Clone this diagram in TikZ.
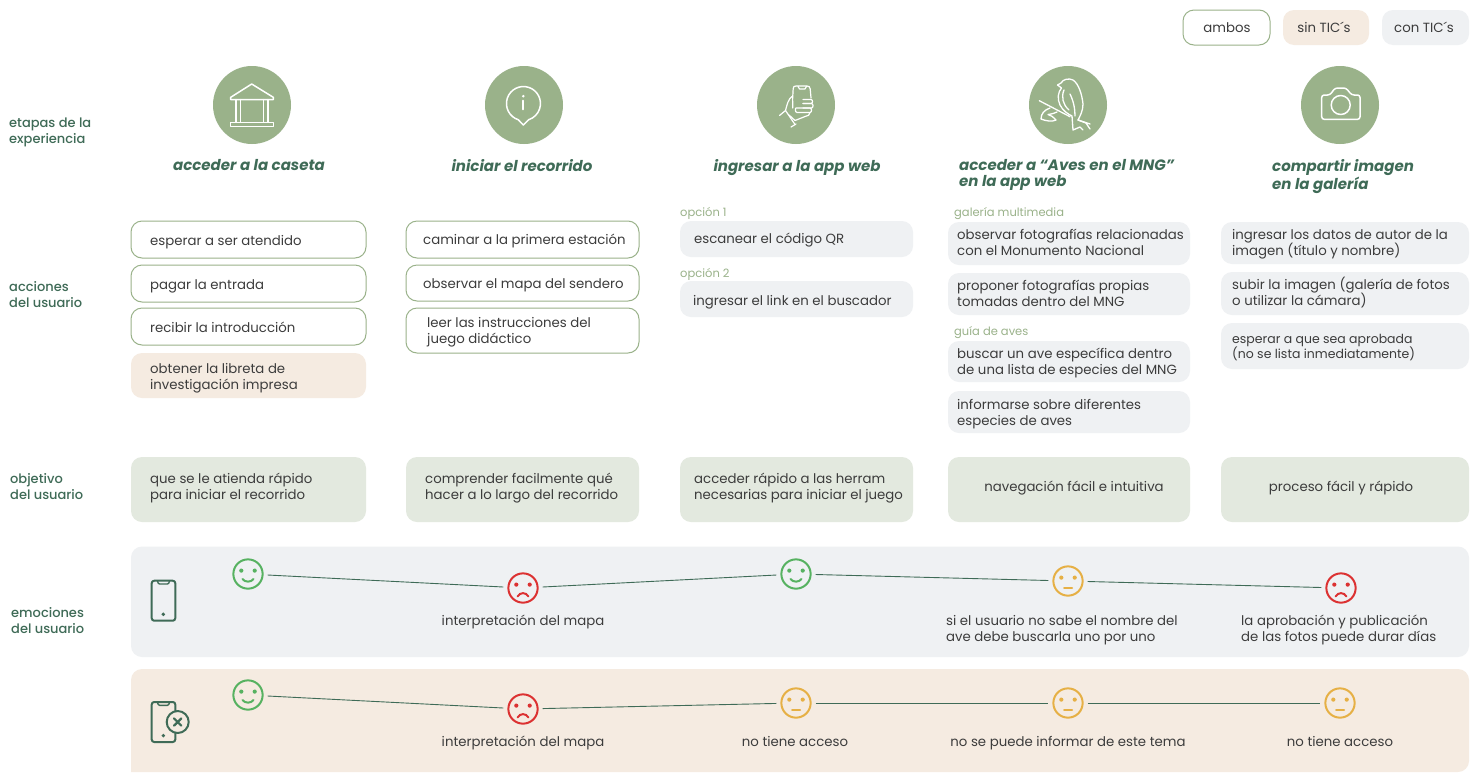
\documentclass[tikz,border=0pt]{standalone}
\usepackage{fontspec}
\setmainfont{Poppins}
\newfontfamily\medf{Poppins Medium}
\definecolor{sage}{HTML}{9AB28A}
\definecolor{forest}{HTML}{3F6B57}
\definecolor{beige}{HTML}{F5EBE1}
\definecolor{greyf}{HTML}{EFF1F3}
\definecolor{mint}{HTML}{E3E9DF}
\definecolor{ink}{HTML}{3C3C3C}
\definecolor{happy}{HTML}{57B261}
\definecolor{sad}{HTML}{DC3232}
\definecolor{meh}{HTML}{E6B045}
\tikzset{
  base/.style={rounded corners=11pt,inner sep=0pt,outer sep=0pt},
  both/.style={base,draw=sage,line width=1pt,fill=white},
  sin/.style={base,fill=beige},
  con/.style={base,fill=greyf},
  goal/.style={base,fill=mint},
  txt/.style={text=ink,inner sep=0pt,align=left,yshift=-2.5pt,font=\fontsize{13.3}{16}\selectfont},
  txtc/.style={txt,align=center},
  small/.style={txt,font=\fontsize{12.5}{15}\selectfont},
  head/.style={text=forest,inner sep=0pt,align=left,yshift=-2.5pt,font=\fontsize{13}{16}\selectfont\medf},
  opt/.style={text=sage,inner sep=0pt,align=left,yshift=-1pt,font=\fontsize{11.5}{14}\selectfont},
  ttl/.style={text=forest,inner sep=0pt,align=left,yshift=-2.5pt,font=\fontsize{15}{16}\selectfont\bfseries\itshape},
  disc/.style={circle,fill=sage,minimum size=78pt,inner sep=0pt,outer sep=0pt},
  ico/.style={draw=white,line width=1.5pt,line join=round,line cap=round},
  dev/.style={draw=forest,line width=2pt,line join=round,line cap=round},
  link/.style={draw=forest,line width=.9pt,shorten >=5pt,shorten <=5pt},
}
% name x1 y1 x2 y2 style (textx,texty) text
\newcommand\bx[8]{%
  \node[#6,minimum width={(#4-#2)*1pt},minimum height={(#5-#3)*1pt}] (#1) at ({(#2+#4)/2},{(#3+#5)/2}) {};
  \node[txt,anchor=west] (#1t) at (#7) {\strut #8\strut};}
\newcommand\bxc[6]{%
  \node[#6,minimum width={(#4-#2)*1pt},minimum height={(#5-#3)*1pt}] (#1) at ({(#2+#4)/2},{(#3+#5)/2}) {};}
\newcommand\facebase[4]{%
  \node[circle,draw=#4,line width=2pt,minimum size=29.3pt,inner sep=0pt,outer sep=0pt] (#1) at (#2,#3) {};
  \fill[#4] ([shift={(-6.7,-3.4)}]#1.center) circle (2.1);
  \fill[#4] ([shift={(6.7,-3.4)}]#1.center) circle (2.1);}
\newcommand\fhappy[3]{\facebase{#1}{#2}{#3}{happy}
  \draw[happy,line width=2pt,line cap=round] ([shift={(-5.5,5)}]#1.center) .. controls ([shift={(-3,8.5)}]#1.center) and ([shift={(3,8.5)}]#1.center) .. ([shift={(5.5,5)}]#1.center);}
\newcommand\fsad[3]{\facebase{#1}{#2}{#3}{sad}
  \draw[sad,line width=2pt,line cap=round] ([shift={(-5.5,8.5)}]#1.center) .. controls ([shift={(-3,4)}]#1.center) and ([shift={(3,4)}]#1.center) .. ([shift={(5.5,8.5)}]#1.center);}
\newcommand\fmeh[3]{\facebase{#1}{#2}{#3}{meh}
  \draw[meh,line width=2pt,line cap=round] ([shift={(-4,6.5)}]#1.center) -- ([shift={(4,6.5)}]#1.center);}
\begin{document}
\begin{tikzpicture}[x=1pt,y=-1pt]
\lineskiplimit=-20pt\relax
\useasboundingbox (0,0) rectangle (1475,772);
\fill[white] (0,0) rectangle (1475,772);
% legend
\bxc{legA}{1183}{10}{1270}{45}{both}
\bxc{legB}{1283}{10}{1369}{45}{sin}
\bxc{legC}{1382}{10}{1469}{45}{con}
\node[txtc] (legAt) at (1227,27) {\strut ambos\strut};
\node[txtc] (legBt) at (1324,27) {\strut sin TIC´s\strut};
\node[txtc] (legCt) at (1424,27) {\strut con TIC´s\strut};
% row labels
\node[head,anchor=west] (h1) at (9,130) {\strut etapas de la\\experiencia\strut};
\node[head,anchor=west] (h2) at (9,294) {\strut acciones\\del usuario\strut};
\node[head,anchor=west] (h3) at (10,486) {\strut objetivo\\del usuario\strut};
\node[head,anchor=west] (h4) at (11,620) {\strut emociones\\del usuario\strut};
% discs
\node[disc] (d1) at (252,105) {};
\node[disc] (d2) at (524,105) {};
\node[disc] (d3) at (796,105) {};
\node[disc] (d4) at (1068,105) {};
\node[disc] (d5) at (1340,105) {};
% temple
\draw[ico] (230.7,97.3) -- (251.7,84) -- (273.3,97.3) -- (273.3,99.5) -- (230.7,99.5) -- cycle;
\draw[ico] (236,99.5) -- (236,122) (240.5,99.5) -- (240.5,122) (263.5,99.5) -- (263.5,122) (268,99.5) -- (268,122);
\draw[ico] (230.7,122.3) rectangle (273.3,126.5);
% info bubble
\draw[ico] (518.2,119.7) arc[start angle=108,end angle=432,radius=17] -- (523.3,125) -- cycle;
\fill[white] (523.3,96.2) circle (1.4);
\draw[ico,line width=1.9pt] (523.3,100.5) -- (523.3,109.5);
% hand and phone
\draw[ico,line width=1.2pt] (792.6,99) -- (793.2,88.5) .. controls (793.3,86.8) and (794,86) .. (796,86) -- (807,86) .. controls (809,86) and (810,87) .. (810.2,89) -- (811,98);
\draw[ico,line width=1.2pt] (798,86.3) -- (799.5,89) -- (805,89) -- (806.5,86.3);
\draw[ico,line width=1.2pt] (803,99.5) -- (811,99.5) .. controls (813,99.5) and (813,103.5) .. (811,103.5) -- (803,103.5);
\draw[ico,line width=1.2pt] (803,103.5) -- (811.5,103.5) .. controls (813.5,103.5) and (813.5,108) .. (811.5,108) -- (803,108);
\draw[ico,line width=1.2pt] (796,108) -- (810,108) .. controls (812,108) and (812,112.5) .. (810,112.5) -- (797,112.5) .. controls (795,112.5) and (795,108) .. (796,108);
\draw[ico,line width=1.2pt] (810,112.5) .. controls (810,115) and (808,116) .. (805,116.5) -- (795,120.5) -- (789,115);
\draw[ico,line width=1.2pt] (792.6,96) .. controls (788,99) and (787,105) .. (785.5,110.5);
\draw[ico,line width=1.2pt] (792.6,99) -- (792.8,108);
\draw[ico,line width=1.2pt] (779.5,115.5) -- (785.5,110.5) -- (795,124.5);
\draw[ico,line width=1.2pt] (791,127) -- (796,124);
% bird
\draw[ico,line width=1.3pt] (1039.3,100.7) -- (1070,116.7);
\draw[ico,line width=1.3pt] (1050,108) .. controls (1044,110) and (1041,114) .. (1041,119) .. controls (1046,121) and (1052,122) .. (1056,120) .. controls (1053,117) and (1051,115) .. (1048,114.5) .. controls (1052,114) and (1055,113) .. (1057,112);
\draw[ico,line width=1.3pt] (1057.5,85) -- (1061,83) .. controls (1063,79) and (1069,78) .. (1073,80) .. controls (1079,84) and (1082,95) .. (1083,104) .. controls (1083,111) and (1080,116) .. (1078,120) -- (1086,123) -- (1090,129);
\draw[ico,line width=1.3pt] (1057.5,85) -- (1061.5,88) .. controls (1058,92) and (1057,99) .. (1060,105) .. controls (1063,111) and (1068,114) .. (1072,116) -- (1073,130) -- (1080,127) -- (1083,130);
\draw[ico,line width=1.3pt] (1064,90) .. controls (1061,97) and (1063,105) .. (1069,110);
\draw[ico,line width=1.3pt] (1070,94) .. controls (1074,102) and (1075,110) .. (1075,116);
\draw[ico,line width=1.3pt] (1078,120) -- (1090,124);
% camera
\draw[ico,line width=1.5pt,rounded corners=2.5pt] (1321.7,95) -- (1330,95) -- (1335,88) -- (1346,88) -- (1351.7,95) -- (1360,95) -- (1360,119.3) -- (1321.7,119.3) -- cycle;
\draw[ico,line width=1.5pt] (1340.7,105) circle (9.5);
% titles
\node[ttl] (t1) at (249,165) {\strut acceder a la caseta\strut};
\node[ttl] (t2) at (522,165) {\strut iniciar el recorrido\strut};
\node[ttl] (t3) at (797,165) {\strut ingresar a la app web\strut};
\node[ttl,anchor=west] (t4) at (959,173) {\strut acceder a “Aves en el MNG”\\en la app web\strut};
\node[ttl,anchor=west,font=\fontsize{15}{18}\selectfont\bfseries\itshape] (t5) at (1272,174) {\strut compartir imagen\\en la galería\strut};
% column 1
\bx{a1}{131}{221}{366}{258}{both}{150,240}{esperar a ser atendido}
\bx{a2}{131}{265}{366}{302}{both}{150,284}{pagar la entrada}
\bx{a3}{131}{308}{366}{345}{both}{150,327}{recibir la introducción}
\bx{a4}{131}{353}{366}{398}{sin}{150,376}{obtener la libreta de\\investigación impresa}
% column 2
\bx{b1}{406}{221}{639}{258}{both}{423,239}{caminar a la primera estación}
\bx{b2}{406}{265}{639}{301}{both}{423,283}{observar el mapa del sendero}
\bx{b3}{406}{308}{639}{353}{both}{427,330}{leer las instrucciones del\\juego didáctico}
% column 3
\node[opt,anchor=west] (o1) at (680,212) {opción 1};
\bx{c1}{680}{221}{913}{257}{con}{694,238}{escanear el código QR}
\node[opt,anchor=west] (o2) at (680,273) {opción 2};
\bx{c2}{680}{281}{913}{317}{con}{693,300}{ingresar el link en el buscador}
% column 4
\node[opt,anchor=west] (o3) at (954,213) {galería multimedia};
\bx{e1}{948}{222}{1190}{265}{con}{957,242}{observar fotografías relacionadas\\con el Monumento Nacional}
\bx{e2}{948}{273}{1190}{315}{con}{957,293}{proponer fotografías propias\\tomadas dentro del MNG}
\node[opt,anchor=west] (o4) at (954,332) {guía de aves};
\bx{e3}{948}{341}{1190}{382}{con}{957,361}{buscar un ave específica dentro\\de una lista de especies del MNG}
\bx{e4}{948}{391}{1190}{433}{con}{957,412}{informarse sobre diferentes\\especies de aves}
% column 5
\bx{f1}{1221}{222}{1469}{264}{con}{1232,242}{ingresar los datos de autor de la\\imagen (título y nombre)}
\bx{f2}{1221}{272}{1469}{315}{con}{1232,291.5}{subir la imagen (galería de fotos\\o utilizar la cámara)}
\bxc{f3}{1221}{323}{1469}{369}{con}
\node[small,anchor=west] (f3t) at (1232,345) {\strut esperar a que sea aprobada\\(no se lista inmediatamente)\strut};
% objectives
\bx{g1}{131}{457}{366}{522}{goal}{150,486}{que se le atienda rápido\\para iniciar el recorrido}
\bx{g2}{406}{457}{639}{522}{goal}{425,486}{comprender facilmente qué\\hacer a lo largo del recorrido}
\bx{g3}{680}{457}{913}{522}{goal}{694,486}{acceder rápido a las herram\\necesarias para iniciar el juego}
\bxc{g4}{948}{457}{1190}{522}{goal}
\node[txtc] (g4t) at (1074,486) {\strut navegación fácil e intuitiva\strut};
\bxc{g5}{1221}{457}{1469}{522}{goal}
\node[txtc] (g5t) at (1341,486) {\strut proceso fácil y rápido\strut};
% emotion panels
\bxc{p1}{131}{546.5}{1469}{657}{con}
\fill[beige,rounded corners=11pt] (131,772) -- (131,669) -- (1469,669) -- (1469,772) [sharp corners] -- cycle;
% phones
\draw[dev,rounded corners=2.5pt] (151.7,580.7) rectangle (175.3,620.7);
\draw[dev,line width=1.4pt,rounded corners=1pt] (157.5,581) -- (158.5,584) -- (168.5,584) -- (169.5,581);
\fill[forest] (163.3,614.3) circle (1.9);
\draw[dev,rounded corners=2.5pt] (151.7,702) rectangle (175.3,742);
\draw[dev,line width=1.4pt,rounded corners=1pt] (157.5,702.3) -- (158.5,705.3) -- (168.5,705.3) -- (169.5,702.3);
\fill[forest] (163.3,735.6) circle (1.9);
\filldraw[dev,fill=beige] (177.7,722) circle (11);
\draw[dev,line width=2.2pt] (174,718.3) -- (181.4,725.7) (181.4,718.3) -- (174,725.7);
% faces row 1
\fhappy{r1}{248}{574}
\fsad{r2}{523}{588}
\fhappy{r3}{796}{574}
\fmeh{r4}{1068}{581}
\fsad{r5}{1341}{588}
\draw[link] (r1) -- (r2);
\draw[link] (r2) -- (r3);
\draw[link] (r3) -- (r4);
\draw[link] (r4) -- (r5);
% faces row 2
\fhappy{s1}{248}{695}
\fsad{s2}{523}{709}
\fmeh{s3}{796}{703}
\fmeh{s4}{1068}{703}
\fmeh{s5}{1340}{703}
\draw[link] (s1) -- (s2);
\draw[link] (s2) -- (s3);
\draw[link] (s3) -- (s4);
\draw[link] (s4) -- (s5);
% emotion labels
\node[txtc] (l1) at (523,620) {\strut interpretación del mapa\strut};
\node[txt,anchor=west] (l2) at (946,628) {\strut si el usuario no sabe el nombre del\\ave debe buscarla uno por uno\strut};
\node[txt,anchor=west] (l3) at (1241,628) {\strut la aprobación y publicación\\de las fotos puede durar días\strut};
\node[txtc] (m1) at (523,741) {\strut interpretación del mapa\strut};
\node[txtc] (m2) at (795,741) {\strut no tiene acceso\strut};
\node[txtc] (m3) at (1068,741) {\strut no se puede informar de este tema\strut};
\node[txtc] (m4) at (1340,741) {\strut no tiene acceso\strut};
\end{tikzpicture}
\end{document}
